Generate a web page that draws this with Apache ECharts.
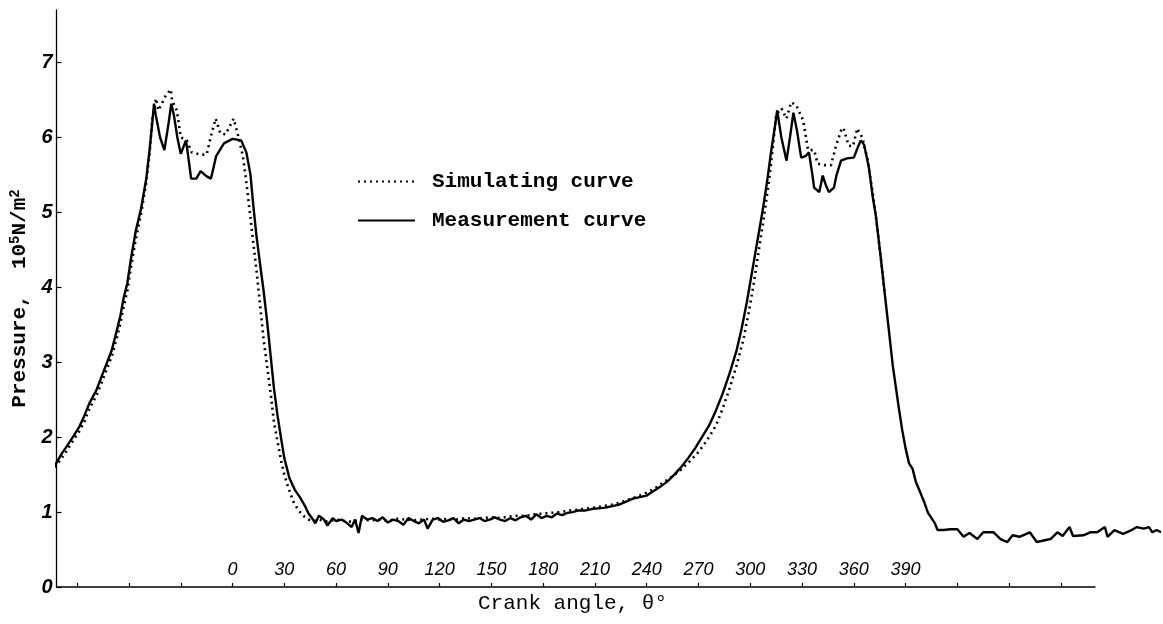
<!DOCTYPE html>
<html>
<head>
<meta charset="utf-8">
<script src="https://cdn.jsdelivr.net/npm/echarts@6/dist/echarts.min.js"></script>
<style>
  html, body { margin: 0; padding: 0; background: #fff; }
  #chart { width: 1163px; height: 624px; }
</style>
</head>
<body>
<div id="chart"></div>
<script>
// ---- data ----
const seriesNames = ['Simulating curve', 'Measurement curve'];

const measAngle = [
  -103, -99, -96, -92, -89, -86, -83, -79, -76, -73, -70, -67, -65, -63, -61, -59, -56, -53, -50, -48,
  -46.5, -45.5, -44.5, -42, -39.5, -37, -35.5, -34, -32, -30, -27, -26, -24, -21, -18.5, -15, -12.5, -9.5, -5, 0,
  5, 8, 10.4, 12, 13.8, 16, 18, 20, 22, 24, 26, 28, 30, 33, 36, 39, 42, 44, 46,
  48, 50, 53, 55, 58, 60, 63, 66, 69, 71, 73, 75, 78, 81, 84, 87, 90, 93, 96, 99,
  102, 105, 108, 111, 113, 116, 119, 122, 125, 128, 131, 134, 137, 140, 143, 146, 149, 152, 155, 158,
  161, 164, 167, 170, 173, 176, 179, 182, 185, 188, 191, 194, 197, 200, 204, 208, 212, 216, 220, 224,
  228, 232, 236, 240, 244, 248, 252, 256, 260, 264, 268, 272, 276, 280, 284, 288, 292, 295, 298, 301,
  304, 307, 310, 312, 314, 315.6, 318, 321, 323, 325, 327, 329.5, 332, 334, 336, 337, 340, 342, 344, 345.6,
  348.5, 350, 352.6, 356, 360, 362, 364, 366, 368.7, 371, 372.8, 375.6, 378, 379.7, 382.6, 386, 388, 390, 392, 394,
  396, 398.7, 401, 403, 405, 407, 408.5, 412, 416, 420, 423.6, 427, 431.6, 435, 441, 445, 449, 452, 456, 462,
  466, 470, 474, 478, 481, 485, 487, 493, 497, 501, 505.5, 507, 511, 516, 521, 524, 528, 531, 533, 535.5, 538
];
const measPressure = [
  1.62, 1.78, 1.88, 2.02, 2.13, 2.28, 2.45, 2.62, 2.8, 2.98, 3.16, 3.43, 3.62, 3.87, 4.05, 4.36, 4.76, 5.05, 5.45, 5.85,
  6.2, 6.45, 6.3, 6.0, 5.83, 6.2, 6.45, 6.3, 6.0, 5.78, 5.96, 5.8, 5.45, 5.45, 5.55, 5.48, 5.45, 5.75, 5.92, 5.98,
  5.96, 5.8, 5.5, 5.1, 4.7, 4.3, 3.95, 3.55, 3.1, 2.65, 2.3, 2.0, 1.72, 1.45, 1.3, 1.2, 1.08, 0.98, 0.92,
  0.85, 0.95, 0.9, 0.82, 0.92, 0.88, 0.9, 0.86, 0.8, 0.9, 0.72, 0.95, 0.9, 0.92, 0.88, 0.93, 0.86, 0.9, 0.88, 0.83,
  0.92, 0.88, 0.85, 0.9, 0.78, 0.9, 0.92, 0.87, 0.89, 0.92, 0.85, 0.9, 0.88, 0.9, 0.92, 0.88, 0.9, 0.93, 0.9, 0.88,
  0.92, 0.89, 0.93, 0.95, 0.9, 0.97, 0.92, 0.95, 0.93, 0.98, 0.96, 0.99, 1.0, 1.02, 1.02, 1.04, 1.05, 1.06, 1.08, 1.1,
  1.14, 1.18, 1.2, 1.22, 1.28, 1.34, 1.41, 1.5, 1.6, 1.72, 1.85, 2.0, 2.15, 2.35, 2.58, 2.85, 3.15, 3.45, 3.8, 4.2,
  4.6, 5.0, 5.45, 5.8, 6.1, 6.36, 6.0, 5.69, 6.0, 6.33, 6.1, 5.73, 5.75, 5.8, 5.5, 5.33, 5.27, 5.49, 5.35, 5.27,
  5.33, 5.5, 5.69, 5.72, 5.73, 5.85, 5.96, 5.9, 5.6, 5.2, 4.95, 4.4, 3.9, 3.55, 2.95, 2.4, 2.1, 1.85, 1.65, 1.58,
  1.4, 1.25, 1.12, 0.99, 0.92, 0.85, 0.76, 0.76, 0.77, 0.77, 0.67, 0.72, 0.64, 0.73, 0.73, 0.64, 0.6, 0.69, 0.67, 0.73,
  0.6, 0.62, 0.64, 0.73, 0.68, 0.8, 0.68, 0.69, 0.73, 0.73, 0.8, 0.67, 0.76, 0.71, 0.76, 0.8, 0.78, 0.8, 0.73, 0.76, 0.73
];

const simAngle = [
  -103, -99, -96, -92, -89, -86, -83, -79, -76, -73, -70, -67, -65, -63, -61, -59, -56, -53, -50, -48,
  -46.5, -44.4, -43, -41, -38.7, -35.8, -35, -32.3, -30, -26.5, -23.7, -18.5, -15, -12.7, -9.8, -7, -4, 0.6, 3.5, 6,
  8, 10, 12, 14, 16, 18, 20, 22, 24, 26, 28, 30, 32, 35, 38, 41, 44, 47,
  50, 55, 60, 65, 70, 75, 80, 85, 90, 95, 100, 105, 110, 115, 120, 125, 130, 135, 140, 145,
  150, 155, 160, 165, 170, 175, 180, 185, 190, 195, 200, 205, 210, 215, 220, 225, 230, 235, 240, 245,
  250, 255, 260, 265, 270, 275, 280, 284, 288, 292, 296, 299, 302, 305, 308, 311, 313, 315, 318, 321,
  323.7, 326.6, 330.6, 333.5, 337, 339, 343, 346.8, 349.7, 352.6, 354, 357, 359.5, 362, 365, 368, 371, 373, 375.6, 378
];
const simPressure = [
  1.6, 1.72, 1.82, 1.97, 2.07, 2.2, 2.38, 2.55, 2.72, 2.9, 3.08, 3.33, 3.52, 3.75, 3.95, 4.25, 4.65, 4.98, 5.4, 5.8,
  6.25, 6.52, 6.36, 6.45, 6.56, 6.64, 6.49, 6.36, 6.0, 5.96, 5.8, 5.77, 5.77, 6.0, 6.25, 6.05, 6.04, 6.25, 6.0, 5.75,
  5.4, 5.0, 4.6, 4.2, 3.75, 3.3, 2.95, 2.6, 2.2, 1.95, 1.7, 1.5, 1.35, 1.15, 1.03, 0.95, 0.9, 0.88,
  0.9, 0.87, 0.9, 0.88, 0.87, 0.9, 0.89, 0.9, 0.88, 0.91, 0.9, 0.89, 0.9, 0.91, 0.9, 0.91, 0.9, 0.92, 0.91, 0.92,
  0.93, 0.92, 0.94, 0.95, 0.95, 0.97, 0.98, 0.99, 1.0, 1.02, 1.03, 1.05, 1.06, 1.08, 1.1, 1.13, 1.17, 1.21, 1.26, 1.32,
  1.4, 1.48, 1.57, 1.68, 1.8, 1.96, 2.15, 2.38, 2.65, 2.95, 3.3, 3.65, 4.05, 4.5, 4.95, 5.45, 5.85, 6.3, 6.39, 6.25,
  6.47, 6.43, 6.23, 5.83, 5.83, 5.65, 5.63, 5.63, 5.89, 6.09, 6.13, 5.89, 5.88, 6.12, 5.99, 5.7, 5.25, 4.9, 4.4, 3.9
];

const xTickAngles = [-90, -60, -30, 0, 30, 60, 90, 120, 150, 180, 210, 240, 270, 300, 330, 360, 390, 420, 450, 480];
const xLabelAngles = [0, 30, 60, 90, 120, 150, 180, 210, 240, 270, 300, 330, 360, 390];
const yTickValues = [0, 1, 2, 3, 4, 5, 6, 7];

const xMin = -102, xMax = 538, xAxisLineEnd = 500;
const yMin = 0, yMax = 7.7;

// ---- build ----
const zip = (a, b) => a.map((v, i) => [v, b[i]]);

const chart = echarts.init(document.getElementById('chart'), null, { renderer: 'canvas' });
const monoFont = '"Liberation Mono", "DejaVu Sans Mono", monospace';

chart.setOption({
  animation: false,
  backgroundColor: '#ffffff',
  grid: { left: 52, top: 10, width: 1109, height: 577 },
  legend: {
    orient: 'vertical',
    left: 352,
    top: 166,
    itemWidth: 57,
    itemHeight: 14,
    itemGap: 18,
    data: seriesNames,
    itemStyle: { opacity: 0 },
    textStyle: { fontFamily: monoFont, fontWeight: 'bold', fontSize: 21, color: '#000', padding: [0, 0, 0, 12] }
  },
  xAxis: {
    type: 'value',
    min: xMin,
    max: xMax,
    axisLine: { show: false },
    splitLine: { show: false },
    axisTick: { show: true, inside: true, length: 4, customValues: xTickAngles, lineStyle: { color: '#000', width: 1.2 } },
    axisLabel: {
      inside: true, margin: 8, customValues: xLabelAngles,
      fontFamily: '"Liberation Sans", "DejaVu Sans", sans-serif', fontStyle: 'italic', fontSize: 18, color: '#000'
    }
  },
  yAxis: {
    type: 'value',
    min: yMin,
    max: yMax,
    interval: 1,
    axisLine: { show: true, onZero: false, lineStyle: { color: '#000', width: 1.3 } },
    splitLine: { show: false },
    axisTick: { show: true, inside: true, length: 5, customValues: yTickValues, lineStyle: { color: '#000', width: 1.2 } },
    axisLabel: {
      margin: 4, customValues: yTickValues,
      fontFamily: '"Liberation Sans", "DejaVu Sans", sans-serif', fontStyle: 'italic', fontWeight: 'bold', fontSize: 20, color: '#000'
    },
    name: '{a|Pressure,  10}{s|5}{a|N/m}{s|2}',
    nameLocation: 'middle',
    nameGap: 20,
    nameRotate: 90,
    nameTextStyle: {
      rich: {
        a: { fontFamily: monoFont, fontWeight: 'bold', fontSize: 21, color: '#000', lineHeight: 24 },
        s: { fontFamily: monoFont, fontWeight: 'bold', fontSize: 14, color: '#000', lineHeight: 24, verticalAlign: 'top' }
      }
    }
  },
  graphic: [
    {
      type: 'text', left: 478, top: 593,
      style: { text: 'Crank angle, \u03B8\u00B0', font: '21px "Liberation Mono", "DejaVu Sans Mono", monospace', fill: '#000' }
    }
  ],
  series: [
    {
      name: seriesNames[0],
      type: 'line',
      data: zip(simAngle, simPressure),
      symbol: 'none',
      lineStyle: { color: '#000', width: 2.6, type: [2, 4] },
      itemStyle: { color: '#000' },
      z: 3
    },
    {
      name: seriesNames[1],
      type: 'line',
      data: zip(measAngle, measPressure),
      symbol: 'none',
      clip: false,
      lineStyle: { color: '#000', width: 2.4 },
      itemStyle: { color: '#000' },
      z: 2,
      markLine: {
        silent: true,
        symbol: ['none', 'none'],
        label: { show: false },
        lineStyle: { color: '#000', width: 1.5, type: 'solid' },
        data: [[{ coord: [xMin, 0] }, { coord: [xAxisLineEnd, 0] }]]
      }
    }
  ]
});
</script>
</body>
</html>
